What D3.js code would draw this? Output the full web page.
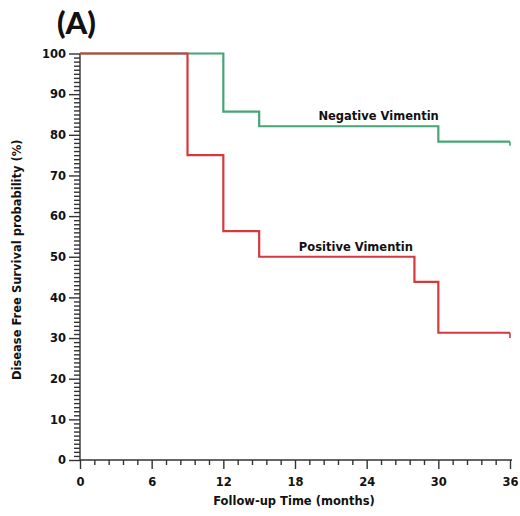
<!DOCTYPE html>
<html>
<head>
<meta charset="utf-8">
<script src="https://cdn.jsdelivr.net/npm/d3@7"></script>
<style>
  html, body { margin: 0; padding: 0; background: #fff; }
  svg { display: block; }
  text { font-family: "DejaVu Sans", Verdana, sans-serif; font-weight: bold; fill: #111; }
</style>
</head>
<body>
<svg id="chart" width="520" height="516"></svg>
<script>
// Kaplan-Meier step data (time in months, survival in %)
const negTimes = [0, 12, 15, 30, 36];
const negSurv  = [100, 85.7, 82.1, 78.3, 77.3];
const posTimes = [0, 9, 12, 15, 28, 30, 36];
const posSurv  = [100, 75, 56.3, 50, 43.8, 31.3, 30];
const xTicks = [0, 6, 12, 18, 24, 30, 36];
const yTicks = [0, 10, 20, 30, 40, 50, 60, 70, 80, 90, 100];
const seriesNames = ["Negative Vimentin", "Positive Vimentin"];
const labelAt = [[25, 82.1], [23.1, 50]];
const panelLabel = "(A)";
const xTitle = "Follow-up Time (months)";
const yTitle = "Disease Free Survival probability (%)";

const svg = d3.select("#chart");
const x = d3.scaleLinear().domain([0, 36]).range([80, 510]);
const y = d3.scaleLinear().domain([0, 100]).range([460, 53.5]);

// minor ticks
const xMinor = d3.range(0, 36.001, 1.2).filter(v => !xTicks.some(t => Math.abs(t - v) < 1e-6));
const yMinor = d3.range(0, 100.001, 1).filter(v => v % 10 !== 0);

const axisColor = "#333";
const fs = "11.5px";

const gx = svg.append("g").attr("transform", "translate(0,460)");
gx.append("g").call(d3.axisBottom(x).tickValues(xMinor).tickSize(5).tickFormat(""))
  .call(g => g.select(".domain").remove());
gx.append("g").call(d3.axisBottom(x).tickValues(xTicks).tickSize(9).tickPadding(9).tickFormat(d3.format("d")))
  .call(g => g.select(".domain").attr("d", `M${x(0)},0H${x(36)+2}`));
gx.selectAll("line, path").attr("stroke", axisColor).attr("stroke-width", 1.4);
gx.selectAll("text").style("font-size", fs).style("font-weight", "bold").attr("fill", "#111");

const gy = svg.append("g").attr("transform", "translate(80,0)");
gy.append("g").call(d3.axisLeft(y).tickValues(yMinor).tickSize(6).tickFormat(""))
  .call(g => g.select(".domain").remove());
gy.append("g").call(d3.axisLeft(y).tickValues(yTicks).tickSize(11).tickPadding(3).tickFormat(d3.format("d")))
  .call(g => g.select(".domain").attr("d", `M0,${y(0)+1}V${y(100)}`));
gy.selectAll("line, path").attr("stroke", axisColor).attr("stroke-width", 1.4);
gy.selectAll("text").style("font-size", fs).style("font-weight", "bold").attr("fill", "#111");

const line = d3.line().x(d => x(d[0])).y(d => y(d[1])).curve(d3.curveStepAfter);
const straight = d3.line().x(d => x(d[0])).y(d => y(d[1]));
function steps(times, surv) {
  const n = times.length;
  const out = times.slice(0, n - 1).map((t, i) => [t, surv[i]]);
  out.push([times[n - 1], surv[n - 2]]);
  return { main: out, tail: [[times[n - 1], surv[n - 2]], [times[n - 1], surv[n - 1]]] };
}
const neg = steps(negTimes, negSurv);
const pos = steps(posTimes, posSurv);
const green = "#45a577", red = "#d4393d";

svg.append("path").datum(neg.main).attr("d", line)
  .attr("fill", "none").attr("stroke", green).attr("stroke-width", 2.2);
svg.append("path").datum(neg.tail).attr("d", straight)
  .attr("fill", "none").attr("stroke", green).attr("stroke-width", 1.6);
svg.append("path").datum(pos.main).attr("d", line)
  .attr("fill", "none").attr("stroke", red).attr("stroke-width", 2.2);
svg.append("path").datum(pos.tail).attr("d", straight)
  .attr("fill", "none").attr("stroke", red).attr("stroke-width", 1.6);

// series labels
seriesNames.forEach((name, i) => {
  svg.append("text").attr("x", x(labelAt[i][0])).attr("y", y(labelAt[i][1]) - 6)
    .attr("text-anchor", "middle").style("font-size", fs).text(name);
});

// axis titles
svg.append("text").attr("x", (x(0) + x(36)) / 2 - 1).attr("y", 505)
  .attr("text-anchor", "middle").style("font-size", fs).text(xTitle);
svg.append("text").attr("transform", `translate(21,${(y(0) + y(100)) / 2 + 3}) rotate(-90)`)
  .attr("text-anchor", "middle").style("font-size", fs).text(yTitle);

// panel label
svg.append("text").attr("x", 57).attr("y", 34)
  .style("font-family", "Lato, 'Open Sans', sans-serif").style("font-size", "31px").style("font-weight", "900")
  .attr("fill", "#000").text(panelLabel);
</script>
</body>
</html>
